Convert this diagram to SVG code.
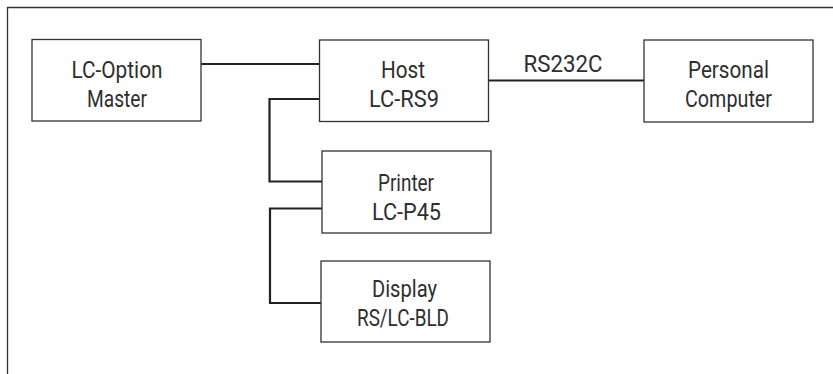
<svg xmlns="http://www.w3.org/2000/svg" width="833" height="374" viewBox="0 0 833 374">
<style>
.box{fill:#fff;stroke:#333;stroke-width:1.3}
.t{font-family:Roboto,"Liberation Sans",Arial,sans-serif;font-size:23.5px;fill:#2e2e2e;text-anchor:middle}
.c{fill:none;stroke:#222;stroke-width:2.2}
</style>
<rect width="833" height="374" fill="#fff"/>
<path d="M7.5 380 V7.5 H833" fill="none" stroke="#333" stroke-width="1.3"/>
<g id="connectors">
<line class="c" x1="201" y1="64" x2="319" y2="64"/>
<line class="c" x1="488" y1="80.5" x2="644" y2="80.5"/>
<polyline class="c" points="319,99 269.5,99 269.5,181.5 322,181.5"/>
<polyline class="c" points="322,208.5 270,208.5 270,303 321,303"/>
<text class="t" x="563" y="72" textLength="79" lengthAdjust="spacingAndGlyphs">RS232C</text>
</g>
<g id="lcoption">
<rect class="box" x="32" y="39.5" width="169" height="81.5"/>
<text class="t" x="117" y="78" textLength="91" lengthAdjust="spacingAndGlyphs">LC-Option</text>
<text class="t" x="117" y="107" textLength="60" lengthAdjust="spacingAndGlyphs">Master</text>
</g>
<g id="host">
<rect class="box" x="319.5" y="40" width="169" height="81.5"/>
<text class="t" x="403" y="78" textLength="44" lengthAdjust="spacingAndGlyphs">Host</text>
<text class="t" x="404" y="107" textLength="70" lengthAdjust="spacingAndGlyphs">LC-RS9</text>
</g>
<g id="pc">
<rect class="box" x="644" y="40" width="169" height="82"/>
<text class="t" x="728.5" y="78" textLength="81" lengthAdjust="spacingAndGlyphs">Personal</text>
<text class="t" x="728.5" y="107" textLength="87" lengthAdjust="spacingAndGlyphs">Computer</text>
</g>
<g id="printer">
<rect class="box" x="322" y="151" width="169" height="82"/>
<text class="t" x="406" y="190.5" textLength="56" lengthAdjust="spacingAndGlyphs">Printer</text>
<text class="t" x="406.5" y="220" textLength="69" lengthAdjust="spacingAndGlyphs">LC-P45</text>
</g>
<g id="display">
<rect class="box" x="321" y="261" width="169" height="81"/>
<text class="t" x="404.5" y="297" textLength="65" lengthAdjust="spacingAndGlyphs">Display</text>
<text class="t" x="403" y="326" textLength="92" lengthAdjust="spacingAndGlyphs">RS/LC-BLD</text>
</g>
</svg>
